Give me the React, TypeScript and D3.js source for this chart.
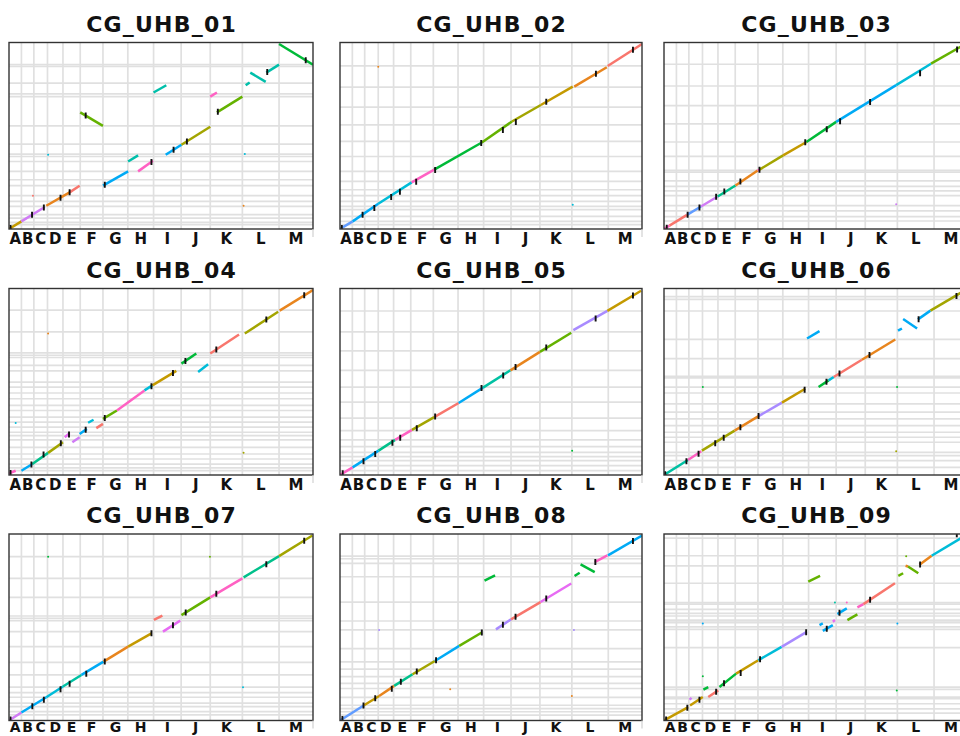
import React, { useEffect, useRef } from 'react';
import * as d3 from 'd3';

// reference chromosomes on the x axis (lengths in Mb)
const chromosomes = ['A', 'B', 'C', 'D', 'E', 'F', 'G', 'H', 'I', 'J', 'K', 'L', 'M'];
const chromLengths = [41, 41, 45, 51, 57, 75, 82, 85, 91, 96, 106, 121, 112];

const palette: Record<string, string> = {
    salmon: '#F8766D',
    orange: '#E8851E',
    gold: '#C49A00',
    olive: '#A3A500',
    lime: '#64B200',
    green: '#00BA38',
    teal: '#00C08B',
    aqua: '#00C1A3',
    turq: '#00BFAA',
    cyan: '#00BCD8',
    blue: '#00AAF5',
    periwinkle: '#619CFF',
    lavender: '#A98BFF',
    violet: '#D07CF5',
    magenta: '#E76BF3',
    pink: '#FF61C3',
};

// alignments: [refStart, refEnd, queryStart, queryEnd, colour]
type Seg = [number, number, number, number, string];
type Pt = [number, number];
type Dot = [number, number, string];

const segs01: Seg[] = [
    [0, 41, 0, 41, 'gold'], [41, 118, 41, 118, 'violet'], [123, 200, 125, 197, 'orange'],
    [200, 233, 197, 233, 'salmon'], [235, 310, 627, 555, 'lime'], [310, 393, 233, 310, 'blue'],
    [393, 426, 363, 396, 'turq'], [426, 475, 310, 367, 'pink'], [477, 519, 734, 773, 'turq'],
    [517, 569, 399, 453, 'blue'], [569, 664, 453, 550, 'olive'], [664, 686, 712, 734, 'pink'],
    [686, 770, 627, 712, 'lime'], [781, 794, 773, 788, 'turq'], [796, 847, 841, 791, 'turq'],
    [849, 891, 841, 884, 'turq'], [891, 1003, 995, 884, 'green'],
];
const ticks01: Pt[] = [[5, 5], [76, 76], [115, 115], [170, 168], [200, 197], [253, 610], [316, 238],
    [470, 360], [543, 426], [587, 471], [689, 630], [852, 844], [979, 908]];
const dots01: Dot[] = [[129, 399, 'cyan'], [778, 403, 'cyan'], [774, 125, 'orange'], [79, 179, 'salmon']];
const breaks01 = [884, 874, 784, 727, 712, 555, 456, 403, 390, 363, 310, 265, 233, 179, 149, 122, 77, 59, 36, 23];

const segs02: Seg[] = [
    [0, 42, 0, 41, 'periwinkle'], [42, 127, 41, 136, 'blue'], [127, 238, 136, 251, 'cyan'],
    [238, 313, 251, 319, 'pink'], [313, 471, 319, 465, 'green'], [471, 571, 465, 578, 'lime'],
    [571, 667, 578, 667, 'olive'], [667, 773, 667, 766, 'gold'], [778, 886, 766, 870, 'orange'],
    [889, 1003, 877, 995, 'salmon'],
];
const ticks02: Pt[] = [[6, 6], [75, 77], [114, 113], [170, 172], [199, 200], [253, 254], [316, 317],
    [469, 462], [541, 533], [584, 576], [685, 684], [850, 835], [973, 964]];
const dots02: Dot[] = [[127, 873, 'orange'], [773, 131, 'cyan']];
const breaks02 = [877, 763, 655, 560, 471, 390, 310, 256, 211, 179, 149, 122, 104, 68, 41, 23];

const segs03: Seg[] = [
    [0, 18, 0, 18, 'pink'], [18, 76, 18, 76, 'salmon'], [76, 122, 76, 121, 'periwinkle'],
    [122, 177, 121, 175, 'violet'], [177, 236, 175, 234, 'teal'], [236, 309, 234, 315, 'orange'],
    [309, 315, 315, 319, 'pink'], [315, 393, 319, 396, 'olive'], [393, 470, 396, 468, 'gold'],
    [470, 568, 468, 576, 'green'], [568, 766, 576, 774, 'blue'], [766, 881, 774, 889, 'cyan'],
    [881, 1003, 889, 1003, 'lime'],
];
const ticks03: Pt[] = [[9, 7], [78, 76], [117, 115], [172, 173], [199, 202], [252, 256], [315, 319],
    [466, 466], [537, 536], [581, 580], [680, 683], [845, 837], [967, 965]];
const dots03: Dot[] = [[766, 133, 'violet']];
const breaks03 = [886, 769, 664, 565, 468, 391, 315, 306, 259, 229, 205, 180, 126, 97, 67, 43];

const segs04: Seg[] = [
    [0, 22, 9, 23, 'pink'], [41, 77, 23, 59, 'blue'], [77, 129, 59, 119, 'teal'],
    [129, 178, 119, 176, 'olive'], [184, 200, 203, 225, 'magenta'], [209, 233, 176, 203, 'violet'],
    [233, 257, 221, 248, 'blue'], [261, 279, 281, 297, 'cyan'], [288, 310, 252, 275, 'salmon'],
    [310, 356, 302, 347, 'lime'], [356, 447, 347, 455, 'pink'], [447, 473, 455, 482, 'cyan'],
    [473, 552, 482, 560, 'gold'], [569, 618, 599, 653, 'green'], [624, 657, 554, 596, 'cyan'],
    [664, 759, 653, 756, 'salmon'], [778, 888, 761, 878, 'olive'], [893, 1003, 884, 995, 'orange'],
];
const ticks04: Pt[] = [[5, 11], [74, 56], [114, 110], [171, 171], [198, 218], [253, 243], [316, 306],
    [470, 477], [541, 548], [582, 613], [684, 675], [849, 836], [974, 967]];
const dots04: Dot[] = [[22, 279, 'cyan'], [129, 761, 'orange'], [774, 119, 'olive']];
const breaks04 = [887, 770, 657, 644, 632, 590, 560, 500, 473, 441, 410, 374, 347, 311, 284, 257, 230, 212, 189,
    149, 113, 86, 59, 38, 23];

const segs05: Seg[] = [
    [0, 42, 0, 41, 'pink'], [42, 128, 41, 131, 'blue'], [128, 183, 131, 189, 'teal'],
    [183, 239, 189, 243, 'pink'], [239, 313, 243, 311, 'olive'], [313, 394, 311, 387, 'salmon'],
    [394, 475, 387, 470, 'blue'], [475, 566, 470, 563, 'aqua'], [566, 664, 563, 662, 'orange'],
    [664, 768, 662, 765, 'lime'], [775, 888, 779, 883, 'lavender'], [888, 1000, 883, 991, 'gold'],
];
const ticks05: Pt[] = [[9, 9], [78, 74], [117, 113], [174, 173], [200, 200], [255, 252], [316, 315],
    [470, 468], [542, 535], [583, 581], [685, 686], [849, 842], [973, 965]];
const dots05: Dot[] = [[771, 131, 'green']];
const breaks05 = [882, 770, 668, 563, 473, 392, 306, 239, 189, 153, 122, 99, 77, 50, 23];

const segs06: Seg[] = [
    [0, 79, 0, 81, 'aqua'], [79, 123, 81, 128, 'pink'], [125, 233, 131, 239, 'olive'],
    [233, 312, 239, 317, 'orange'], [312, 389, 317, 389, 'lavender'], [389, 466, 389, 464, 'gold'],
    [472, 513, 734, 774, 'blue'], [510, 543, 473, 509, 'green'], [543, 560, 509, 527, 'cyan'],
    [560, 653, 527, 620, 'salmon'], [653, 763, 620, 729, 'orange'], [772, 785, 776, 788, 'blue'],
    [789, 835, 839, 788, 'blue'], [838, 879, 837, 884, 'blue'], [879, 1003, 884, 1003, 'olive'],
];
const ticks06: Pt[] = [[4, 4], [74, 74], [114, 114], [169, 171], [197, 200], [252, 257], [312, 317],
    [464, 459], [536, 501], [579, 546], [678, 645], [840, 837], [965, 963]];
const dots06: Dot[] = [[128, 473, 'green'], [769, 473, 'green'], [766, 128, 'olive']];
const breaks06 = [959, 945, 882, 729, 626, 531, 522, 473, 441, 383, 338, 302, 266, 230, 203, 176, 122, 104, 77, 41];

const segs07: Seg[] = [
    [0, 41, 0, 43, 'violet'], [41, 123, 43, 125, 'blue'], [123, 178, 125, 183, 'cyan'],
    [178, 239, 183, 245, 'aqua'], [239, 312, 245, 317, 'blue'], [312, 393, 317, 397, 'orange'],
    [393, 470, 397, 469, 'gold'], [478, 506, 541, 564, 'salmon'], [508, 565, 478, 537, 'magenta'],
    [569, 664, 567, 662, 'lime'], [664, 770, 662, 764, 'pink'], [774, 891, 770, 884, 'teal'],
    [891, 1001, 884, 995, 'olive'],
];
const ticks07: Pt[] = [[5, 6], [77, 76], [115, 111], [170, 168], [200, 197], [255, 252], [316, 317],
    [470, 469], [541, 512], [583, 581], [684, 681], [849, 840], [974, 967]];
const dots07: Dot[] = [[129, 881, 'green'], [663, 881, 'lime'], [772, 179, 'cyan']];
const breaks07 = [881, 764, 662, 562, 550, 537, 478, 397, 313, 245, 179, 150, 125, 93, 75, 48, 30];

const segs08: Seg[] = [
    [0, 80, 0, 82, 'periwinkle'], [80, 130, 82, 132, 'gold'], [130, 180, 132, 186, 'orange'],
    [180, 241, 186, 249, 'teal'], [241, 315, 249, 320, 'olive'], [315, 396, 320, 401, 'blue'],
    [396, 471, 401, 473, 'lime'], [480, 515, 752, 780, 'green'], [518, 568, 490, 544, 'lavender'],
    [568, 666, 544, 637, 'salmon'], [666, 768, 637, 737, 'magenta'], [779, 796, 777, 795, 'green'],
    [799, 846, 840, 798, 'green'], [846, 888, 852, 888, 'pink'], [890, 1003, 888, 995, 'blue'],
];
const ticks08: Pt[] = [[8, 8], [78, 80], [117, 119], [172, 171], [202, 209], [255, 263], [319, 324],
    [471, 473], [541, 515], [583, 558], [685, 656], [848, 853], [973, 966]];
const dots08: Dot[] = [[130, 487, 'lavender'], [777, 487, 'lavender'], [366, 168, 'orange'], [770, 132, 'orange']];
const breaks08 = [884, 870, 845, 773, 637, 535, 487, 387, 315, 276, 236, 200, 172, 124, 82, 64, 47, 29];

const segs09: Seg[] = [
    [0, 80, 0, 72, 'gold'], [84, 91, 112, 122, 'violet'], [86, 128, 81, 126, 'gold'],
    [130, 146, 166, 180, 'green'], [146, 179, 126, 162, 'salmon'], [183, 238, 180, 252, 'green'],
    [238, 311, 252, 324, 'gold'], [311, 388, 324, 396, 'cyan'], [388, 471, 396, 477, 'lavender'],
    [476, 515, 747, 778, 'lime'], [513, 524, 513, 522, 'blue'], [524, 557, 482, 513, 'blue'],
    [557, 564, 531, 540, 'magenta'], [572, 603, 572, 603, 'blue'], [605, 638, 540, 571, 'lime'],
    [638, 658, 608, 626, 'pink'], [658, 762, 626, 738, 'salmon'], [773, 789, 778, 792, 'lime'],
    [797, 805, 832, 828, 'orange'], [805, 839, 828, 792, 'lime'], [843, 883, 837, 886, 'orange'],
    [883, 1003, 886, 1003, 'cyan'],
];
const ticks09: Pt[] = [[7, 6], [77, 69], [117, 111], [172, 154], [198, 200], [253, 256], [317, 330],
    [469, 475], [537, 494], [579, 579], [680, 650], [845, 839], [966, 1002]];
const dots09: Dot[] = [[128, 238, 'green'], [128, 522, 'blue'], [770, 522, 'blue'], [768, 162, 'green'],
    [603, 634, 'pink'], [564, 634, 'aqua'], [799, 883, 'lime']];
const breaks09 = [981, 886, 832, 738, 634, 626, 598, 576, 562, 540, 536, 526, 504, 490, 392, 180, 167, 126, 117,
    90, 63, 40];

const panelNames = ['CG_UHB_01', 'CG_UHB_02', 'CG_UHB_03', 'CG_UHB_04', 'CG_UHB_05', 'CG_UHB_06',
    'CG_UHB_07', 'CG_UHB_08', 'CG_UHB_09'];
const panelSegs = [segs01, segs02, segs03, segs04, segs05, segs06, segs07, segs08, segs09];
const panelTicks = [ticks01, ticks02, ticks03, ticks04, ticks05, ticks06, ticks07, ticks08, ticks09];
const panelDots = [dots01, dots02, dots03, dots04, dots05, dots06, dots07, dots08, dots09];
const panelBreaks = [breaks01, breaks02, breaks03, breaks04, breaks05, breaks06, breaks07, breaks08, breaks09];

const App = () => {
    const svgRef = useRef<SVGSVGElement>(null);

    useEffect(() => {
        if (!svgRef.current) return;
        const svg = d3.select(svgRef.current);
        svg.selectAll('*').remove();

        const font = '"DejaVu Sans", Verdana, sans-serif';
        const ends = Array.from(d3.cumsum(chromLengths));
        const starts = [0, ...ends.slice(0, -1)];
        const total = ends[ends.length - 1];

        const colX = [9, 340, 664];
        const plotW = [304, 302, 304];
        const rowY = [42.5, 288.5, 534];
        const plotH = 186.5;

        panelNames.forEach((name, i) => {
            const col = i % 3;
            const row = Math.floor(i / 3);
            const left = colX[col];
            const top = rowY[row];
            const w = plotW[col];
            const lastRow = row === 2;

            const x = d3.scaleLinear().domain([0, total]).range([left, left + w]);
            const y = d3.scaleLinear().domain([0, total]).range([top + plotH, top]);

            const g = svg.append('g');
            g.append('clipPath').attr('id', `clip-${i}`)
                .append('rect').attr('x', left).attr('y', top).attr('width', w).attr('height', plotH);

            g.append('rect')
                .attr('x', left).attr('y', top).attr('width', w).attr('height', plotH)
                .attr('fill', 'white');

            const inner = g.append('g').attr('clip-path', `url(#clip-${i})`);

            // contig boundaries of the query
            inner.selectAll('line.hgrid')
                .data(panelBreaks[i])
                .join('line')
                .attr('x1', left).attr('x2', left + w)
                .attr('y1', d => y(d)).attr('y2', d => y(d))
                .attr('stroke', '#e0e0e0')
                .attr('stroke-width', 1.7);

            // chromosome boundaries of the reference
            inner.selectAll('line.vgrid')
                .data(ends.slice(0, -1))
                .join('line')
                .attr('x1', d => x(d)).attr('x2', d => x(d))
                .attr('y1', top).attr('y2', top + plotH)
                .attr('stroke', '#e0e0e0')
                .attr('stroke-width', 1.7);

            inner.selectAll('circle.dot')
                .data(panelDots[i])
                .join('circle')
                .attr('cx', d => x(d[0])).attr('cy', d => y(d[1]))
                .attr('r', 1)
                .attr('fill', d => palette[d[2]]);

            inner.selectAll('line.seg')
                .data(panelSegs[i])
                .join('line')
                .attr('x1', d => x(d[0])).attr('x2', d => x(d[1]))
                .attr('y1', d => y(d[2])).attr('y2', d => y(d[3]))
                .attr('stroke', d => palette[d[4]])
                .attr('stroke-width', 2.5);

            inner.selectAll('line.tick')
                .data(panelTicks[i])
                .join('line')
                .attr('x1', d => x(d[0])).attr('x2', d => x(d[0]))
                .attr('y1', d => y(d[1]) - 3).attr('y2', d => y(d[1]) + 3)
                .attr('stroke', '#111')
                .attr('stroke-width', 1.9);

            g.append('rect')
                .attr('x', left).attr('y', top).attr('width', w).attr('height', plotH)
                .attr('fill', 'none')
                .attr('stroke', '#333')
                .attr('stroke-width', 1.4);

            g.append('line')
                .attr('x1', x(total)).attr('x2', x(total))
                .attr('y1', top + plotH).attr('y2', top + plotH + 8)
                .attr('stroke', '#d0d0d0')
                .attr('stroke-width', 1.2);

            g.append('text')
                .attr('x', left + w / 2 + 0.6)
                .attr('y', top - 11)
                .attr('text-anchor', 'middle')
                .attr('font-family', font)
                .attr('font-weight', 'bold')
                .attr('font-size', 22)
                .attr('letter-spacing', 1.2)
                .attr('fill', '#111')
                .text(name);

            // bottom row sits against the page edge, so its labels are nudged up to stay whole
            g.selectAll('text.lab')
                .data(chromosomes)
                .join('text')
                .attr('x', (_, k) => x((starts[k] + ends[k]) / 2))
                .attr('y', lastRow ? 732 : top + plotH + 15)
                .attr('text-anchor', 'middle')
                .attr('font-family', font)
                .attr('font-weight', 'bold')
                .attr('font-size', lastRow ? 14 : 15)
                .attr('fill', '#111')
                .text(d => d);
        });
    }, []);

    return (
        <svg
            ref={svgRef}
            width={960}
            height={736}
            style={{ position: 'absolute', left: 0, top: 0, background: 'white' }}
        />
    );
};

export default App;
